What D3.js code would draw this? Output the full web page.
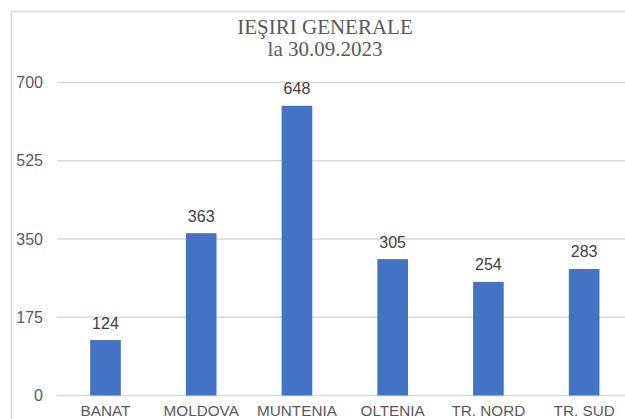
<!DOCTYPE html>
<html><head><meta charset="utf-8">
<script src="https://cdn.jsdelivr.net/npm/d3@7"></script>
<style>html,body{margin:0;padding:0;background:#fff;overflow:hidden}</style>
</head><body>
<script>
const categories = ["BANAT","MOLDOVA","MUNTENIA","OLTENIA","TR. NORD","TR. SUD"];
const values = [124,363,648,305,254,283];
const yTicks = [0,175,350,525,700];
const titleLines = ["IEŞIRI GENERALE","la 30.09.2023"];

const W=625,H=419;
const svg=d3.select("body").append("svg").attr("width",W).attr("height",H);
svg.append("rect").attr("width",W).attr("height",H).attr("fill","#fff");
// chart border
svg.append("path").attr("d",`M11.5,${H+5}V11.5H${W+5}`).attr("fill","none").attr("stroke","#d9d9d9").attr("stroke-width",1.5);

const x=d3.scaleBand().domain(categories).range([57.6,632]).paddingInner(0.68).paddingOuter(0.34);
const y=d3.scaleLinear().domain([0,700]).range([395.5,82.5]);

const grid=svg.append("g");
grid.selectAll("line").data(yTicks).join("line")
 .attr("x1",57).attr("x2",W).attr("y1",d=>y(d)).attr("y2",d=>y(d))
 .attr("stroke","#d9d9d9").attr("stroke-width",1.3);

const yAxis=d3.axisLeft(y).tickValues(yTicks).tickSize(0).tickPadding(0);
const ya=svg.append("g").attr("transform","translate(43,0)").call(yAxis);
ya.select(".domain").remove();
ya.selectAll("text").attr("font-family","Liberation Sans, Arial, sans-serif").attr("font-size",16).attr("fill","#595959");

svg.append("g").selectAll("rect").data(values).join("rect")
 .attr("x",(d,i)=>x(categories[i])).attr("width",x.bandwidth())
 .attr("y",d=>y(d)).attr("height",d=>y(0)-y(d)).attr("fill","#4472C4");

svg.append("g").selectAll("text").data(values).join("text")
 .attr("x",(d,i)=>x(categories[i])+x.bandwidth()/2).attr("y",d=>y(d)-11.5)
 .attr("text-anchor","middle").attr("font-family","Liberation Sans, Arial, sans-serif")
 .attr("font-size",16).attr("fill","#404040").text(d=>d);

const xAxis=d3.axisBottom(x).tickSize(0).tickPadding(0);
const xa=svg.append("g").attr("transform","translate(0,404.5)").call(xAxis);
xa.select(".domain").remove();
xa.selectAll("text").attr("dy","0.75em").attr("font-family","Liberation Sans, Arial, sans-serif").attr("font-size",15.3).attr("fill","#595959");

svg.append("g").selectAll("text").data(titleLines).join("text")
 .attr("x",325).attr("y",(d,i)=>34+i*22).attr("text-anchor","middle")
 .attr("font-family","Liberation Serif, Times New Roman, serif").attr("font-size",21)
 .attr("fill","#595959").text(d=>d);
</script>
</body></html>
